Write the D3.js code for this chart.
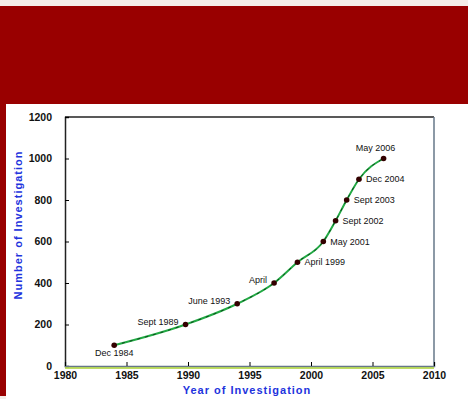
<!DOCTYPE html>
<html>
<head>
<meta charset="utf-8">
<script src="https://cdn.jsdelivr.net/npm/d3@7"></script>
<style>
  body { margin: 0; background: #f5ede8; }
</style>
</head>
<body>
<div id="chart"></div>
<script>
// 1: DATA
const years = [1984, 1989.8, 1994, 1997, 1998.9, 2001, 2002, 2002.9, 2003.9, 2005.9];
const counts = [100, 200, 300, 400, 500, 600, 700, 800, 900, 1000];
const labels = ["Dec 1984", "Sept 1989", "June 1993", "April", "April 1999",
                "May 2001", "Sept 2002", "Sept 2003", "Dec 2004", "May 2006"];
// where each label sits relative to its point
const labelSide = ["below", "left", "left", "left", "right",
                   "right", "right", "right", "right", "above"];
const xTicks = [1980, 1985, 1990, 1995, 2000, 2005, 2010];
const yTicks = [0, 200, 400, 600, 800, 1000, 1200];

const W = 468, H = 399;
const margin = { top: 117, right: 34, bottom: 33, left: 65 };
const width = W - margin.left - margin.right;
const height = H - margin.top - margin.bottom;

const svg = d3.select("#chart")
    .append("svg")
    .attr("width", W)
    .attr("height", H);

// background: red header band, left strip, white panel
svg.append("rect").attr("x", 0).attr("y", 0).attr("width", W).attr("height", H).attr("fill", "#f5ede8");
svg.append("rect").attr("x", 0).attr("y", 6).attr("width", W).attr("height", 98).attr("fill", "#990000");
svg.append("rect").attr("x", 0).attr("y", 6).attr("width", 6).attr("height", 390).attr("fill", "#990000");
svg.append("rect").attr("x", 6).attr("y", 104).attr("width", W - 6).attr("height", H - 104).attr("fill", "#ffffff");

const g = svg.append("g")
    .attr("transform", `translate(${margin.left},${margin.top})`);

// 2: SCALES
const xScale = d3.scaleLinear().domain([1980, 2010]).range([0, width]);
const yScale = d3.scaleLinear().domain([0, 1200]).range([height, 0]);

const data = years.map((y, i) => ({ year: y, count: counts[i], label: labels[i], side: labelSide[i] }));

// 3: FRAME + AXES
g.append("line").attr("x1", 0).attr("x2", width).attr("y1", 0).attr("y2", 0)
    .attr("stroke", "#222").attr("stroke-width", 1.5);
g.append("line").attr("x1", width).attr("x2", width).attr("y1", 0).attr("y2", height)
    .attr("stroke", "#667788").attr("stroke-width", 1.5);

const yAxis = g.append("g")
    .call(d3.axisLeft(yScale).tickValues(yTicks).tickSize(-4).tickPadding(13).tickFormat(d3.format("d")));
yAxis.select(".domain").attr("stroke", "#222").attr("stroke-width", 1.5);
yAxis.selectAll("text")
    .style("font-family", "Liberation Sans, Arial, sans-serif")
    .style("font-size", "10.5px")
    .style("font-weight", "bold")
    .attr("fill", "#111");

const xAxis = g.append("g")
    .attr("transform", `translate(0,${height})`)
    .call(d3.axisBottom(xScale).tickValues(xTicks).tickSize(-4).tickPadding(6).tickFormat(d3.format("d")));
xAxis.select(".domain").attr("stroke", "#667788").attr("stroke-width", 1.5);
xAxis.selectAll("text")
    .style("font-family", "Liberation Sans, Arial, sans-serif")
    .style("font-size", "10.5px")
    .style("font-weight", "bold")
    .attr("fill", "#111");
g.append("line").attr("x1", 0).attr("x2", width).attr("y1", height + 2).attr("y2", height + 2)
    .attr("stroke", "#a8d030").attr("stroke-width", 1.5);

// 4: LINE + POINTS
const line = d3.line()
    .x(d => xScale(d.year))
    .y(d => yScale(d.count))
    .curve(d3.curveMonotoneX);

g.append("path")
    .datum(data)
    .attr("fill", "none")
    .attr("stroke", "#22aa44")
    .attr("stroke-width", 2)
    .attr("d", line);

g.append("path")
    .datum(data)
    .attr("fill", "none")
    .attr("stroke", "#0a4a1a")
    .attr("stroke-width", 1)
    .attr("stroke-dasharray", "3,5")
    .attr("d", line);

g.selectAll(".pt")
    .data(data)
    .join("circle")
    .attr("class", "pt")
    .attr("cx", d => xScale(d.year))
    .attr("cy", d => yScale(d.count))
    .attr("r", 2.8)
    .attr("fill", "#330000");

// 5: POINT LABELS
const offsets = {
    below: { dx: 0, dy: 11, anchor: "middle" },
    left: { dx: -7, dy: 0, anchor: "end" },
    right: { dx: 7, dy: 3, anchor: "start" },
    above: { dx: -8, dy: -8, anchor: "middle" }
};

g.selectAll(".lbl")
    .data(data)
    .join("text")
    .attr("class", "lbl")
    .attr("x", d => xScale(d.year) + offsets[d.side].dx)
    .attr("y", d => yScale(d.count) + offsets[d.side].dy)
    .attr("text-anchor", d => offsets[d.side].anchor)
    .style("font-family", "Liberation Sans, Arial, sans-serif")
    .style("font-size", "9px")
    .attr("fill", "#111")
    .text(d => d.label);

// 6: AXIS TITLES
svg.append("text")
    .attr("x", 247)
    .attr("y", 394)
    .attr("text-anchor", "middle")
    .style("font-family", "Liberation Sans, Arial, sans-serif")
    .style("font-size", "11px")
    .style("font-weight", "bold")
    .style("letter-spacing", "1px")
    .attr("fill", "#2233dd")
    .text("Year of Investigation");

svg.append("text")
    .attr("transform", "rotate(-90)")
    .attr("x", -225)
    .attr("y", 22)
    .attr("text-anchor", "middle")
    .style("font-family", "Liberation Sans, Arial, sans-serif")
    .style("font-size", "11px")
    .style("font-weight", "bold")
    .style("letter-spacing", "1px")
    .attr("fill", "#2233dd")
    .text("Number of Investigation");
</script>
</body>
</html>
